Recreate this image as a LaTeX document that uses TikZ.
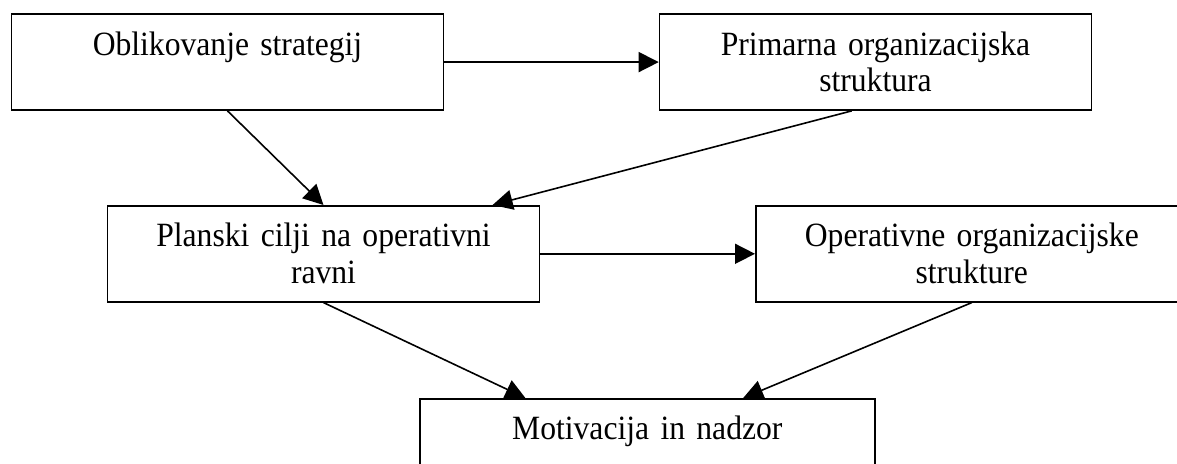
\documentclass[tikz,border=0pt]{standalone}
\usepackage{fontspec}
\setmainfont[FakeStretch=0.93,WordSpace=0.85]{Liberation Serif}
\usetikzlibrary{calc,arrows.meta}

\begin{document}
\begin{tikzpicture}[x=0.5pt,y=-0.5pt]
	\tikzstyle{box}=[draw,line width=0.8pt,anchor=north west,minimum width=216pt,text width=206pt,inner xsep=5pt,inner ysep=0pt,align=center,text height=20.5pt,text depth=27.5pt,font=\fontsize{17}{18.3}\selectfont]
	\tikzstyle{wide box}=[box,minimum width=227.5pt,text width=217.5pt]
	\tikzstyle{link}=[line width=0.8pt,-{Triangle[length=10pt,width=10pt]}]

	\useasboundingbox (0,0) rectangle (1177,464);

	% Draw the strategic level
	\node[box] (strat) at (10.7,13.3) {Oblikovanje strategij};
	\node[box] (prim) at (658.7,13.3) {Primarna organizacijska\\struktura};

	% Draw the operative level
	\node[box] (plan) at (106.7,205) {Planski cilji na operativni\\ravni};
	\node[box] (oper) at (755,205) {Operativne organizacijske\\strukture};

	% Draw the last box
	\node[wide box] (motiv) at (419,398) {Motivacija in nadzor};

	% Connect the boxes
	\draw[link] (strat.east) -- (prim.west);
	\draw[link] (strat.south) -- (plan.north);
	\draw[link] ($(prim.south west)!0.445!(prim.south east)$) -- ($(plan.north west)!0.89!(plan.north east)$);
	\draw[link] (plan.east) -- (oper.west);
	\draw[link] (plan.south) -- ($(motiv.north west)!0.233!(motiv.north east)$);
	\draw[link] (oper.south) -- ($(motiv.north west)!0.71!(motiv.north east)$);
\end{tikzpicture}
\end{document}
